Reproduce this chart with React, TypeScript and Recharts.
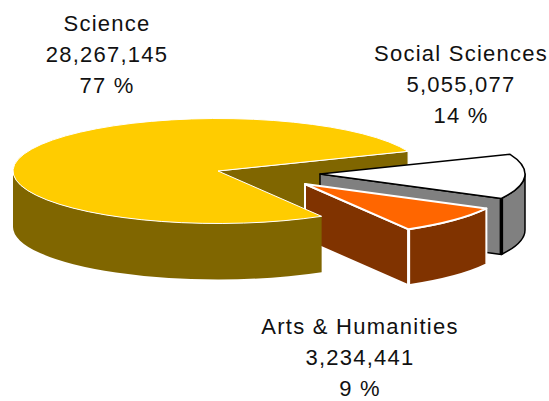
/**
 * SubjectPie – exploded 3D pie of records per subject area, drawn with Recharts.
 * The Pie works out the angles; the custom shapes project each sector to an ellipse.
 */

import React from 'react';
import { PieChart, Pie } from 'recharts';

const categories = ['Social Sciences', 'Arts & Humanities', 'Science'];
const records = [5055077, 3234441, 28267145];

const table = categories.map((name, i) => ({ name, value: records[i] }));

const WIDTH = 549;
const HEIGHT = 401;
const TILT = 52.5 / 205;
const DEPTH = 56;
const FONT = '"Liberation Sans", Arial, sans-serif';

const looks: Record<string, any> = {
  'Social Sciences': { top: '#FFFFFF', side: '#808080', line: '#000000', width: 1.5, corner: 3.5, dx: 102, dy: 3 },
  'Arts & Humanities': { top: '#FF6600', side: '#803300', line: '#FFFFFF', width: 2, corner: 3, dx: 87, dy: 13 },
  Science: { top: '#FFCC00', side: '#806600', line: '#FFFFFF', width: 1, corner: 0, dx: 0, dy: 0 },
};

const labelSpots: Record<string, { x: number; y: number }> = {
  'Social Sciences': { x: 461, y: 61 },
  'Arts & Humanities': { x: 360, y: 334 },
  Science: { x: 107, y: 31 },
};

const rad = (deg: number) => (deg * Math.PI) / 180;

// screen position of an angle on the tilted rim, z pushes it down to the base
const rim = (p: any, deg: number, z = 0) => {
  const look = looks[p.name];
  return {
    x: p.cx + look.dx + p.outerRadius * Math.cos(rad(deg)),
    y: p.cy + look.dy - p.outerRadius * TILT * Math.sin(rad(deg)) + z,
  };
};

const apex = (p: any, z = 0) => {
  const look = looks[p.name];
  return { x: p.cx + look.dx, y: p.cy + look.dy + z };
};

const arc = (p: any, from: number, to: number, z: number, sweep: number) => {
  const end = rim(p, to, z);
  const big = Math.abs(from - to) > 180 ? 1 : 0;
  return `A${p.outerRadius} ${p.outerRadius * TILT} 0 ${big} ${sweep} ${end.x} ${end.y}`;
};

// part of the sector that runs along the front half of the ellipse
const frontSpan = (start: number, end: number) => {
  const from = Math.min(start, 0);
  const to = Math.max(end, -180);
  return from > to ? [from, to] : null;
};

const CutFace = ({ p }: { p: any }) => {
  const look = looks[p.name];
  const a = apex(p);
  const b = rim(p, p.endAngle);
  const c = rim(p, p.endAngle, DEPTH);
  const d = apex(p, DEPTH);
  return (
    <path
      d={`M${a.x} ${a.y}L${b.x} ${b.y}L${c.x} ${c.y}L${d.x} ${d.y}Z`}
      fill={look.side}
      stroke={look.line}
      strokeWidth={look.width}
      strokeLinejoin="round"
    />
  );
};

const Slice = (p: any) => {
  const look = looks[p.name];
  const a = apex(p);
  const s = rim(p, p.startAngle);
  const span = frontSpan(p.startAngle, p.endAngle);
  const isScience = p.name === 'Science';
  const edge = rim(p, p.endAngle);

  let wall = '';
  if (span) {
    const p0 = rim(p, span[0]);
    const p2 = rim(p, span[1], DEPTH);
    wall = `M${p0.x} ${p0.y}${arc(p, span[0], span[1], 0, 1)}L${p2.x} ${p2.y}${arc(p, span[1], span[0], DEPTH, 0)}Z`;
  }

  return (
    <g>
      {!isScience && <CutFace p={p} />}
      {wall && (
        <path
          d={wall}
          fill={look.side}
          stroke={isScience ? look.side : look.line}
          strokeWidth={isScience ? 0 : look.width}
          strokeLinejoin="round"
        />
      )}
      {look.corner > 0 && (
        <line
          x1={edge.x}
          y1={edge.y}
          x2={edge.x}
          y2={edge.y + DEPTH}
          stroke={look.line}
          strokeWidth={look.corner}
        />
      )}
      <path
        d={`M${a.x} ${a.y}L${s.x} ${s.y}${arc(p, p.startAngle, p.endAngle, 0, 1)}Z`}
        fill={look.top}
        stroke={look.line}
        strokeWidth={look.width}
        strokeLinejoin="round"
      />
    </g>
  );
};

// inner cut of the big sector sits behind the two pulled-out sectors
const BackCut = (p: any) => (p.name === 'Science' ? <CutFace p={p} /> : <g />);

const SliceLabel = (p: any) => {
  const spot = labelSpots[p.name];
  const lines = [p.name, Number(p.value).toLocaleString('en-US'), `${Math.round(p.percent * 100)} %`];
  return (
    <text
      x={spot.x}
      y={spot.y}
      textAnchor="middle"
      fill="#111111"
      stroke="none"
      fontFamily={FONT}
      fontSize={22}
      letterSpacing={1.25}
    >
      {lines.map((line, i) => (
        <tspan key={line} x={spot.x} y={spot.y + i * 31}>
          {line}
        </tspan>
      ))}
    </text>
  );
};

export default function App() {
  const shared = {
    data: table,
    dataKey: 'value',
    nameKey: 'name',
    cx: 218,
    cy: 171,
    innerRadius: 0,
    outerRadius: 205,
    startAngle: 22,
    endAngle: -338,
    stroke: 'none',
    isAnimationActive: false,
  };
  return (
    <div style={{ position: 'absolute', left: 0, top: 0, width: WIDTH, height: HEIGHT, background: '#fff' }}>
      <PieChart width={WIDTH} height={HEIGHT} margin={{ top: 0, right: 0, bottom: 0, left: 0 }}>
        <Pie {...shared} shape={BackCut} label={false} labelLine={false} />
        <Pie {...shared} shape={Slice} label={SliceLabel} labelLine={false} />
      </PieChart>
    </div>
  );
}
